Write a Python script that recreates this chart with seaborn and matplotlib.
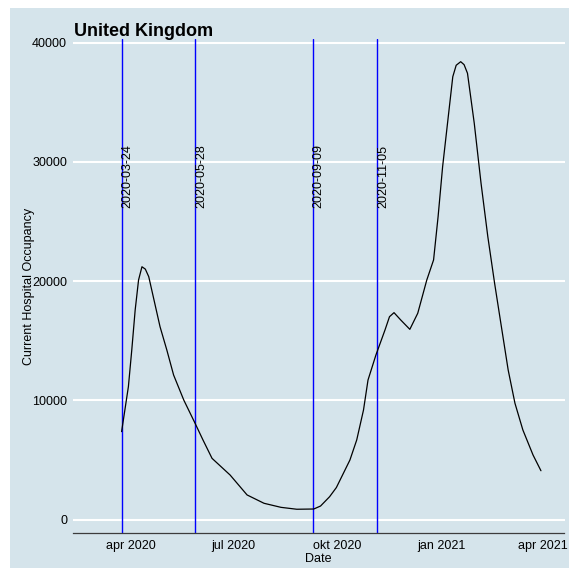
import matplotlib
matplotlib.use("Agg")
import matplotlib.pyplot as plt
import matplotlib.dates as mdates
from matplotlib.patches import Rectangle
import pandas as pd
import seaborn as sns

# Current hospital occupancy, United Kingdom
dates = [
    "2020-03-24", "2020-03-30", "2020-04-02", "2020-04-05", "2020-04-08",
    "2020-04-11", "2020-04-14", "2020-04-17", "2020-04-21", "2020-04-27",
    "2020-05-03", "2020-05-09", "2020-05-18", "2020-05-28", "2020-06-04",
    "2020-06-12", "2020-06-28", "2020-07-13", "2020-07-28", "2020-08-12",
    "2020-08-26", "2020-09-10", "2020-09-16", "2020-09-24", "2020-09-30",
    "2020-10-12", "2020-10-18", "2020-10-24", "2020-10-28", "2020-11-04",
    "2020-11-12", "2020-11-16", "2020-11-20", "2020-11-26", "2020-12-04",
    "2020-12-11", "2020-12-19", "2020-12-22", "2020-12-25", "2020-12-29",
    "2021-01-02", "2021-01-07", "2021-01-11", "2021-01-14", "2021-01-18",
    "2021-01-21", "2021-01-24", "2021-01-30", "2021-02-05", "2021-02-11",
    "2021-02-17", "2021-02-23", "2021-03-01", "2021-03-07", "2021-03-14",
    "2021-03-23", "2021-03-30",
]
occupancy = [
    7370, 11140, 14220, 17570, 20090,
    21200, 21000, 20370, 18690, 16170,
    14220, 12120, 10020, 8070, 6670,
    5130, 3730, 2060, 1360, 1020,
    860, 880, 1130, 1910, 2680,
    4990, 6670, 9180, 11700, 13800,
    15890, 17010, 17350, 16730, 15950,
    17300, 20090, 20930, 21770, 25400,
    29590, 33790, 37140, 38100, 38400,
    38150, 37430, 33230, 28200, 23720,
    19810, 16170, 12540, 9750, 7510,
    5410, 4090,
]

# Policy dates marked with vertical lines
event_dates = ["2020-03-24", "2020-05-28", "2020-09-09", "2020-11-05"]

x_ticks = ["2020-04-01", "2020-07-01", "2020-10-01", "2021-01-01", "2021-04-01"]
x_tick_labels = ["apr 2020", "jul 2020", "okt 2020", "jan 2021", "apr 2021"]
y_ticks = [0, 10000, 20000, 30000, 40000]

df = pd.DataFrame({"Date": pd.to_datetime(dates), "Current Hospital Occupancy": occupancy})

BG = "#d5e4eb"
sns.set_theme(style="white")
plt.rcParams["font.family"] = ["Liberation Sans", "DejaVu Sans"]

fig = plt.figure(figsize=(5.69, 5.68), dpi=100)
fig.patch.set_facecolor("white")
fig.patches.append(Rectangle((10 / 569, 0), 1, (568 - 8) / 568, transform=fig.transFigure,
                             facecolor=BG, edgecolor="none", zorder=-10))

ax = fig.add_axes([73 / 569, 35.3 / 568, 491.5 / 569, 493.4 / 568])
ax.set_facecolor(BG)

for y in y_ticks:
    ax.axhline(y, color="white", lw=1.5, zorder=1)

for d in event_dates:
    ax.axvline(pd.Timestamp(d), color="#0000ff", lw=1.0, zorder=2)
    ax.text(pd.Timestamp(d), 26100, d, rotation=90, ha="left", va="bottom",
            fontsize=9, color="black", zorder=3)

sns.lineplot(data=df, x="Date", y="Current Hospital Occupancy", ax=ax,
             color="black", lw=0.9, zorder=4)

ax.set_xlim(mdates.date2num(pd.Timestamp("2020-02-10")),
            mdates.date2num(pd.Timestamp("2021-04-19 20:00")))
ax.set_ylim(-1107, 40278)

ax.set_xticks([mdates.date2num(pd.Timestamp(t)) for t in x_ticks])
ax.set_xticklabels(x_tick_labels)
ax.set_yticks(y_ticks)
ax.set_yticklabels([str(v) for v in y_ticks])

for side in ["top", "right", "left"]:
    ax.spines[side].set_visible(False)
ax.spines["bottom"].set_color("#3c3c3c")
ax.spines["bottom"].set_linewidth(0.9)

ax.tick_params(axis="x", direction="in", length=4, width=0.8, color="#3c3c3c",
               labelsize=9, labelcolor="black", pad=5.5)
ax.tick_params(axis="y", length=0, labelsize=9, labelcolor="black", pad=4.3)

ax.set_xlabel("Date", fontsize=9, color="black")
ax.xaxis.set_label_coords(0.5, -0.041)
ax.set_ylabel("Current Hospital Occupancy", fontsize=9, color="black")
ax.yaxis.set_label_coords(-0.0783, 0.5)

fig.text(74 / 569, 1 - 36 / 568, "United Kingdom", fontsize=13, fontweight="bold",
         color="black", ha="left", va="baseline")

fig.savefig("out.png", dpi=100, facecolor=fig.get_facecolor())
